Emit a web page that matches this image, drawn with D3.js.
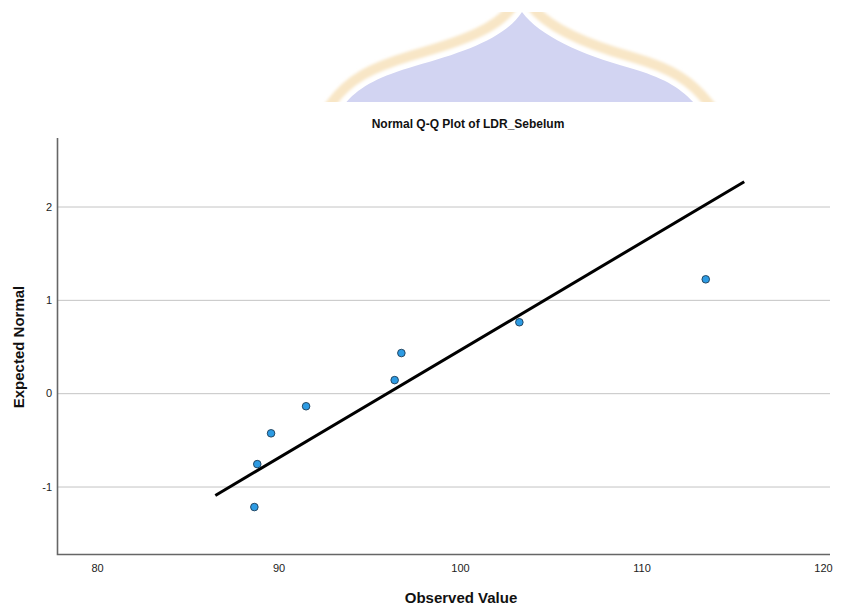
<!DOCTYPE html>
<html>
<head>
<meta charset="utf-8">
<script src="https://cdn.jsdelivr.net/npm/d3@7"></script>
<style>
  body { margin: 0; background: #fff; }
  svg text { font-family: "Liberation Sans", Arial, sans-serif; }
</style>
</head>
<body>
<div class="chart"></div>
<script>

// observed values and their expected normal scores
var observed = [88.67, 88.83, 89.59, 91.52, 96.40, 96.77, 103.27, 113.54];
var expected = [-1.22, -0.76, -0.43, -0.14, 0.14, 0.43, 0.76, 1.22];

// reference line end points
var lineX = [86.52, 115.66];
var lineY = [-1.096, 2.265];

var xTicks = [80, 90, 100, 110, 120];
var yTicks = [-1, 0, 1, 2];

var title = "Normal Q-Q Plot of LDR_Sebelum";
var xTitle = "Observed Value";
var yTitle = "Expected Normal";

var width = 858, height = 610;
var plotLeft = 57, plotRight = 830, plotTop = 138, plotBottom = 554;

var svg = d3.select('.chart').append('svg').attr('width', width).attr('height', height);

// faint logo watermark behind the chart (cut off at the chart area)
var defs = svg.append('defs');
defs.append('clipPath').attr('id', 'wmClip')
  .append('rect').attr('x', 0).attr('y', 12).attr('width', width).attr('height', 90);
defs.append('filter').attr('id', 'fuzz')
  .append('feGaussianBlur').attr('stdDeviation', 1.5);

var dome = "M340,110 C356,88 375,78 415,66 C465,52 505,38 522,12 C540,36 580,54 630,68 C668,79 684,90 700,110 Z";
var wm = svg.append('g').attr('clip-path', 'url(#wmClip)');
wm.append('path').attr('d', dome).attr('fill', 'none')
  .attr('stroke', '#f8e6c6').attr('stroke-width', 32).attr('filter', 'url(#fuzz)');
wm.append('path').attr('d', dome).attr('fill', 'none')
  .attr('stroke', '#ffffff').attr('stroke-width', 12).attr('filter', 'url(#fuzz)');
wm.append('path').attr('d', dome).attr('fill', '#d2d4f2').attr('stroke', 'none');

var x = d3.scaleLinear().domain([77.796, 120.386]).range([plotLeft, plotRight]);
var y = d3.scaleLinear().domain([-1.723, 2.734]).range([plotBottom, plotTop]);

// tick labels use a plain hyphen for negatives
var fmt = function(d) { return String(d); };

// gridlines
svg.append('g').attr('class', 'grid')
  .attr('transform', 'translate(' + plotLeft + ',0)')
  .call(d3.axisLeft(y).tickValues(yTicks).tickSize(-(plotRight - plotLeft)).tickFormat(''))
  .call(function(g) {
    g.select('.domain').remove();
    g.selectAll('line').attr('stroke', '#c4c4c4').attr('stroke-width', 1);
  });

// tick labels
var yAxis = svg.append('g')
  .attr('transform', 'translate(' + plotLeft + ',0)')
  .call(d3.axisLeft(y).tickValues(yTicks).tickSize(0).tickPadding(5).tickFormat(fmt));
yAxis.select('.domain').remove();
yAxis.selectAll('text').attr('font-size', '11px').attr('fill', '#222');

var xAxis = svg.append('g')
  .attr('transform', 'translate(0,' + plotBottom + ')')
  .call(d3.axisBottom(x).tickValues(xTicks).tickSize(0).tickPadding(10).tickFormat(fmt));
xAxis.select('.domain').remove();
xAxis.selectAll('text').attr('font-size', '11px').attr('fill', '#222');

// axis frame
svg.append('path')
  .attr('d', 'M' + (plotLeft + 0.5) + ',' + plotTop + 'V' + (plotBottom + 0.5) + 'H' + plotRight)
  .attr('fill', 'none').attr('stroke', '#666').attr('stroke-width', 1.6);

// reference line
svg.append('line')
  .attr('x1', x(lineX[0])).attr('y1', y(lineY[0]))
  .attr('x2', x(lineX[1])).attr('y2', y(lineY[1]))
  .attr('stroke', '#000').attr('stroke-width', 3);

// points
svg.selectAll('.pt').data(observed).enter().append('circle')
  .attr('class', 'pt')
  .attr('cx', function(d) { return x(d); })
  .attr('cy', function(d, i) { return y(expected[i]); })
  .attr('r', 3.8)
  .attr('fill', '#2d9be3')
  .attr('stroke', '#1c3b55').attr('stroke-width', 0.9);

// titles
svg.append('text').attr('x', 468).attr('y', 128)
  .attr('text-anchor', 'middle').attr('font-size', '12px').attr('font-weight', 'bold')
  .attr('fill', '#111').text(title);

svg.append('text').attr('x', 461).attr('y', 603)
  .attr('text-anchor', 'middle').attr('font-size', '15px').attr('font-weight', 'bold')
  .attr('fill', '#111').text(xTitle);

svg.append('text').attr('transform', 'translate(24,347) rotate(-90)')
  .attr('text-anchor', 'middle').attr('font-size', '15px').attr('font-weight', 'bold')
  .attr('fill', '#111').text(yTitle);

</script>
</body>
</html>
